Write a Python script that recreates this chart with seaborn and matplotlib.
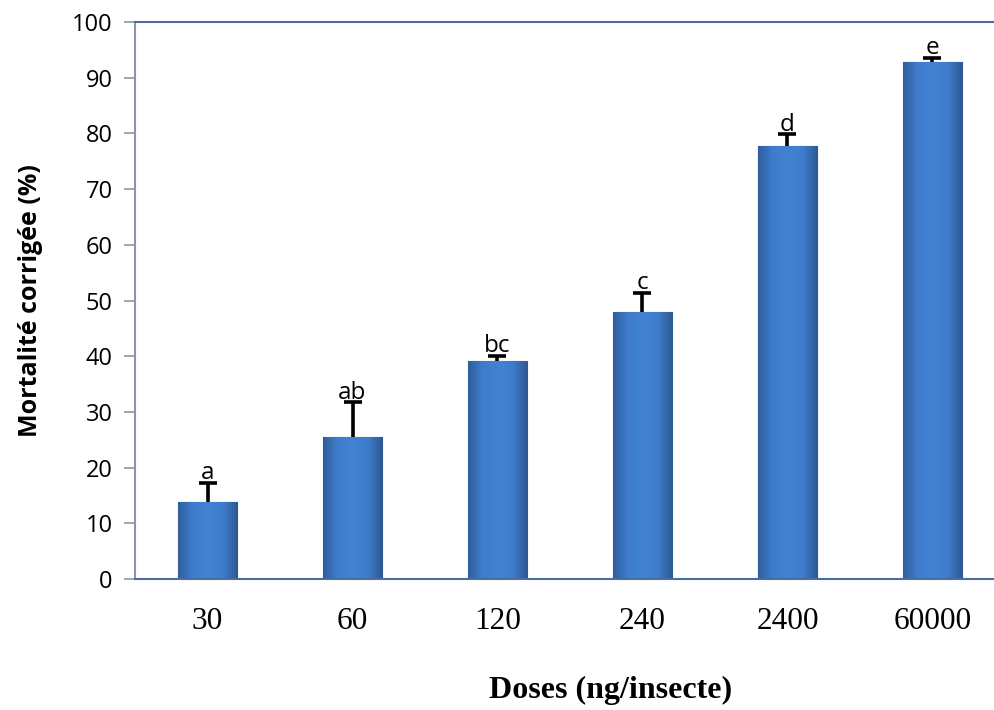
import numpy as np
import pandas as pd
import seaborn as sns
import matplotlib
matplotlib.use("Agg")
import matplotlib.pyplot as plt
from matplotlib.colors import LinearSegmentedColormap

doses = ["30", "60", "120", "240", "2400", "60000"]
mortality = [13.8, 25.5, 39.2, 48.0, 77.8, 92.9]
error_up = [3.5, 6.3, 0.9, 3.4, 2.1, 0.7]
letters = ["a", "ab", "bc", "c", "d", "e"]

df = pd.DataFrame({"Dose": doses, "Mortalite": mortality})

sns.set_style("white")
plt.rcParams['font.family'] = ['Open Sans', 'DejaVu Sans']
plt.rcParams['text.color'] = 'black'

fig = plt.figure(figsize=(9.95, 7.1), dpi=100)
ax = fig.add_axes([135 / 995, 1 - 579 / 710, 870 / 995, 557 / 710])

sns.barplot(data=df, x="Dose", y="Mortalite", color="#3f7dcc", width=0.41,
            errorbar=None, ax=ax, zorder=2)

# soft gradient fill clipped to each bar (darker edges)
grad = LinearSegmentedColormap.from_list(
    "bar", ["#2f5e9e", "#3f7dcc", "#4182d2", "#3f7dcc", "#2c5892"])
hgrad = np.linspace(0, 1, 100).reshape(1, -1)
for p in ax.patches:
    x0, y0 = p.get_x(), p.get_y()
    w, h = p.get_width(), p.get_height()
    im = ax.imshow(hgrad, cmap=grad, aspect="auto", extent=[x0, x0 + w, y0, y0 + h],
                   zorder=2.1, interpolation="bicubic")
    im.set_clip_path(p)
    p.set_edgecolor("#2d5a96")
    p.set_linewidth(0.8)

# upper error bars only
xs = np.arange(len(doses))
tops = np.array(mortality) + np.array(error_up)
ax.vlines(xs, mortality, tops, color="black", linewidth=2.6, zorder=3)
ax.plot(xs, tops, linestyle="none", marker="_", markersize=13,
        markeredgewidth=2.6, color="black", zorder=3)

for i, lab in enumerate(letters):
    ax.annotate(lab, (xs[i], tops[i]), xytext=(0, -2),
                textcoords="offset points", ha="center", va="bottom",
                fontsize=17.5, zorder=4)

ax.set_xlim(-0.5, len(doses) - 0.5)
ax.set_ylim(0, 100)
ax.set_yticks(range(0, 101, 10))

for s in ["top", "bottom"]:
    ax.spines[s].set_color("#4a6ea4")
    ax.spines[s].set_linewidth(1.5)
ax.spines["left"].set_color("#8c96a8")
ax.spines["left"].set_linewidth(1.5)
ax.spines["right"].set_visible(False)

ax.tick_params(axis="y", direction="out", length=8, width=1.2, color="#8c96a8",
               labelsize=17, pad=8, left=True, labelcolor="black")
ax.tick_params(axis="x", length=0, pad=20, labelcolor="black")
for t in ax.get_xticklabels():
    t.set_fontfamily("Liberation Serif")
    t.set_fontsize(22.5)

ax.set_xlabel("Doses (ng/insecte)", fontfamily="Liberation Serif", fontsize=23,
              fontweight="bold", labelpad=29, color="black")
ax.xaxis.label.set_x(0.547)
ax.set_ylabel("Mortalité corrigée (%)", fontsize=18, fontweight="bold",
              labelpad=21, color="black")

fig.savefig("out.png", dpi=100)
